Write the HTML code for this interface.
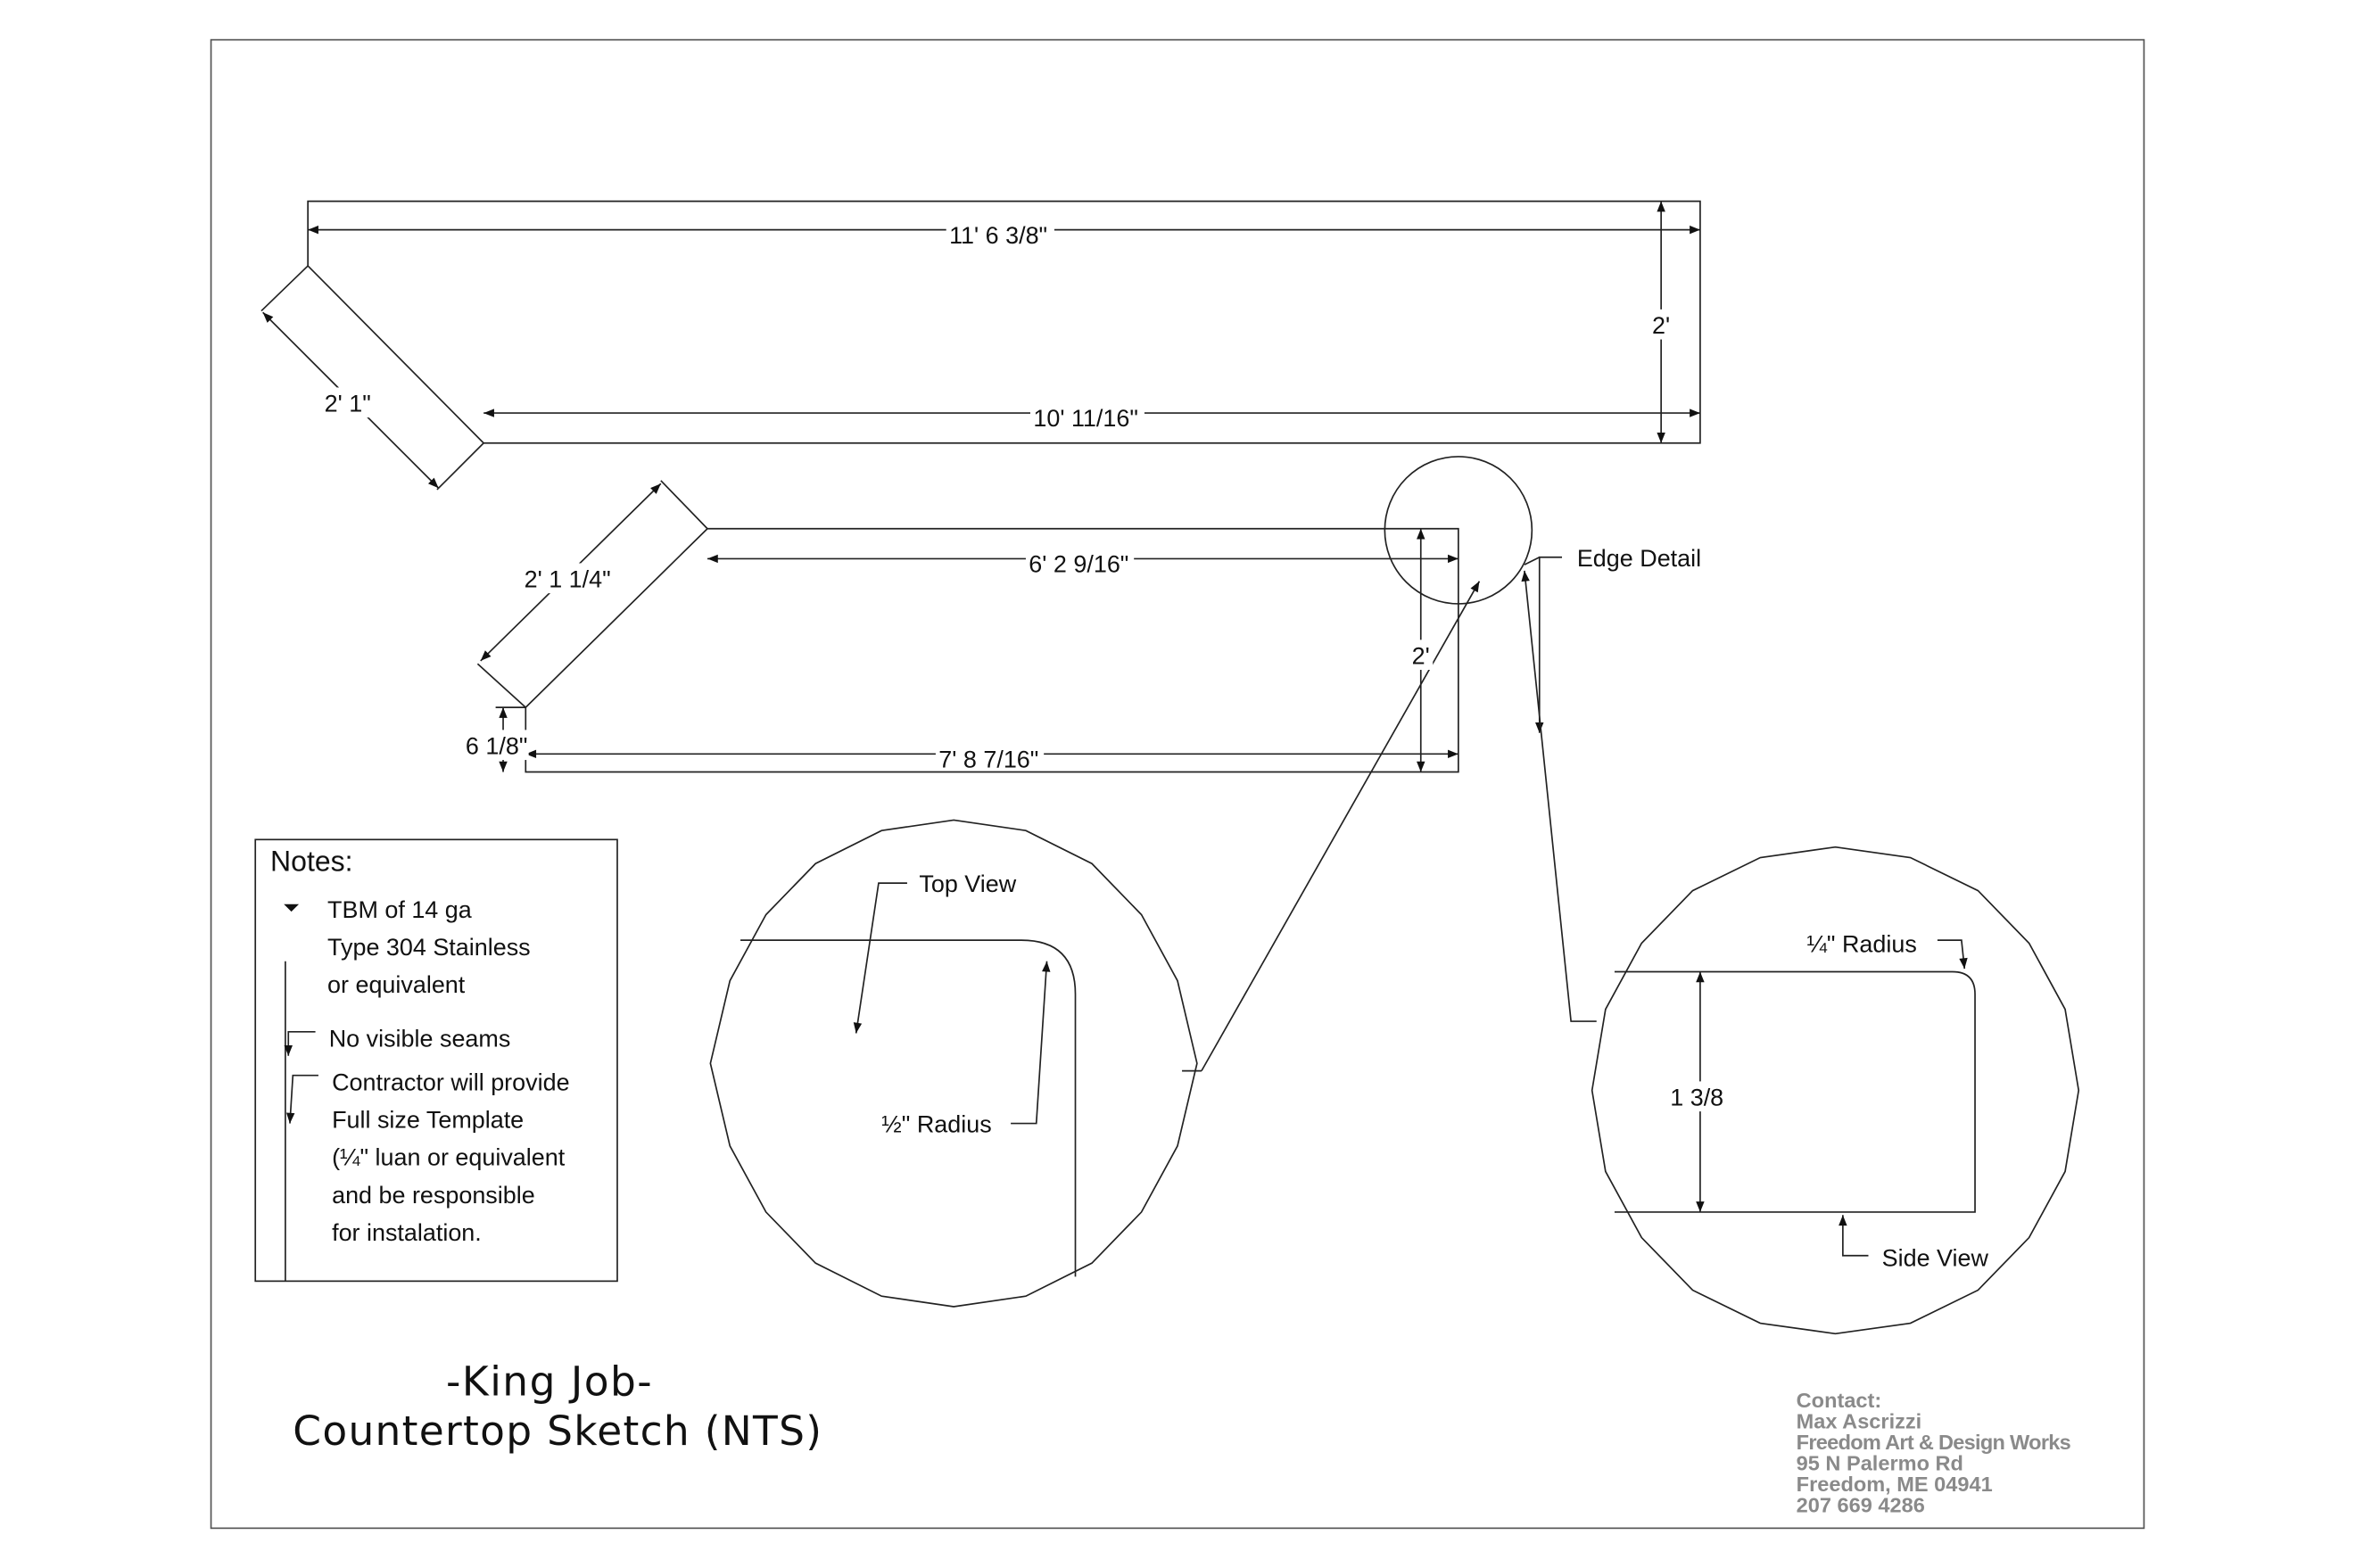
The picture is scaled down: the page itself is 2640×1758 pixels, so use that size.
<!DOCTYPE html>
<html><head><meta charset="utf-8"><style>
html,body{margin:0;padding:0;background:#fff;}
svg{display:block;}
text{font-family:"Liberation Sans","DejaVu Sans",sans-serif;}
</style></head><body>
<svg width="2640" height="1758" viewBox="0 0 1568 1044" preserveAspectRatio="none" xmlns="http://www.w3.org/2000/svg">
<defs>
<marker id="a" viewBox="0 0 10 10" refX="10" refY="5" markerWidth="9" markerHeight="7" orient="auto-start-reverse" markerUnits="userSpaceOnUse"><path d="M0,1 L10,5 L0,9 z" fill="#111"/></marker>
</defs>
<rect width="1568" height="1044" fill="#fff"/>
<rect x="140.5" y="26.5" width="1287" height="991" fill="none" stroke="#555" stroke-width="1"/>
<g fill="none" stroke="#222" stroke-width="1">
<path d="M205,134 L1132,134 L1132,295 L322,295 L205,177 Z"/>
<line x1="205" y1="153" x2="1132" y2="153" marker-start="url(#a)" marker-end="url(#a)"/>
<line x1="322" y1="275" x2="1132" y2="275" marker-start="url(#a)" marker-end="url(#a)"/>
<line x1="1106" y1="134" x2="1106" y2="295" marker-start="url(#a)" marker-end="url(#a)"/>
<line x1="175" y1="208" x2="292" y2="325" marker-start="url(#a)" marker-end="url(#a)"/>
<line x1="205" y1="177" x2="174" y2="207"/>
<line x1="322" y1="295" x2="291" y2="326"/>
<path d="M471,352 L971,352 L971,514 L350,514 L350,471 Z"/>
<line x1="471" y1="372" x2="971" y2="372" marker-start="url(#a)" marker-end="url(#a)"/>
<line x1="350" y1="502" x2="971" y2="502" marker-start="url(#a)" marker-end="url(#a)"/>
<line x1="946" y1="352" x2="946" y2="514" marker-start="url(#a)" marker-end="url(#a)"/>
<line x1="440" y1="322" x2="320" y2="440" marker-start="url(#a)" marker-end="url(#a)"/>
<line x1="471" y1="352" x2="440" y2="320"/>
<line x1="350" y1="471" x2="318" y2="442"/>
<line x1="335" y1="471" x2="335" y2="514" marker-start="url(#a)" marker-end="url(#a)"/>
<line x1="330" y1="471" x2="350" y2="471"/>
<circle cx="971" cy="353" r="49"/>
<path d="M800,713 L787,713"/>
<line x1="800" y1="713" x2="985" y2="387" marker-end="url(#a)"/>
<path d="M1040,371 L1025,371 L1025,488" marker-end="url(#a)"/>
<line x1="1025" y1="371" x2="1015" y2="376"/>
<path d="M1063,680 L1046,680 L1015,380" marker-end="url(#a)"/>
<polygon points="635,546 683,553 727,575 760,609 784,653 797,708 784,763 760,807 727,841 683,863 635,870 587,863 543,841 510,807 486,763 473,708 486,653 510,609 543,575 587,553"/>
<path d="M493,626 L680,626 Q716,626 716,662 L716,850"/>
<path d="M604,588 L585,588 L570,688" marker-end="url(#a)"/>
<path d="M673,748 L690,748 L697,640" marker-end="url(#a)"/>
<polygon points="1222,564 1272,571 1317,593 1351,628 1375,672 1384,726 1375,780 1351,824 1317,859 1272,881 1222,888 1172,881 1127,859 1093,824 1069,780 1060,726 1069,672 1093,628 1127,593 1172,571"/>
<path d="M1075,647 L1300,647 Q1315,647 1315,662 L1315,807 L1075,807"/>
<line x1="1132" y1="647" x2="1132" y2="807" marker-start="url(#a)" marker-end="url(#a)"/>
<path d="M1290,626 L1306,626 L1308,645" marker-end="url(#a)"/>
<path d="M1244,836 L1227,836 L1227,809" marker-end="url(#a)"/>
<rect x="170" y="559" width="241" height="294"/>
<line x1="190" y1="640" x2="190" y2="853"/>
<path d="M210,687 L192,687 L192,703" marker-end="url(#a)"/>
<path d="M212,716 L195,716 L193,748" marker-end="url(#a)"/>
</g>
<path d="M189,602 L199,602 L194,607 Z" fill="#111"/>
<g fill="#fff">
<rect x="630" y="146" width="72" height="18"/>
<rect x="686" y="268" width="76" height="18"/>
<rect x="1098" y="206" width="16" height="20"/>
<rect x="214" y="258" width="38" height="20"/>
<rect x="683" y="365" width="72" height="18"/>
<rect x="623" y="495" width="72" height="18"/>
<rect x="938" y="426" width="16" height="20"/>
<rect x="347" y="375" width="64" height="20"/>
<rect x="308" y="486" width="44" height="20"/>
<rect x="1110" y="720" width="44" height="20"/>
</g>
<g font-size="16" style="fill:#111">
<text x="632" y="162">11' 6 3/8"</text>
<text x="688" y="284">10' 11/16"</text>
<text x="1100" y="222">2'</text>
<text x="216" y="274">2' 1"</text>
<text x="685" y="381">6' 2 9/16"</text>
<text x="625" y="511">7' 8 7/16"</text>
<text x="940" y="442">2'</text>
<text x="349" y="391">2' 1 1/4"</text>
<text x="310" y="502">6 1/8"</text>
<text x="1050" y="377">Edge Detail</text>
<text x="612" y="594">Top View</text>
<text x="587" y="754">½" Radius</text>
<text x="1203" y="634">¼" Radius</text>
<text x="1112" y="736">1 3/8</text>
<text x="1253" y="843">Side View</text>
<text x="180" y="580" font-size="19">Notes:</text>
<text x="218" y="611">TBM of 14 ga</text>
<text x="218" y="636">Type 304 Stainless</text>
<text x="218" y="661">or equivalent</text>
<text x="219" y="697">No visible seams</text>
<text x="221" y="726">Contractor will provide</text>
<text x="221" y="751">Full size Template</text>
<text x="221" y="776">(¼" luan or equivalent</text>
<text x="221" y="801">and be responsible</text>
<text x="221" y="826">for instalation.</text>
</g>
<g style="fill:#111;font-family:'DejaVu Sans',sans-serif" font-size="27">
<text x="297" y="929" textLength="137" style="font-family:'DejaVu Sans',sans-serif">-King Job-</text>
<text x="195" y="962" textLength="352" style="font-family:'DejaVu Sans',sans-serif">Countertop Sketch (NTS)</text>
</g>
<g font-size="14" font-weight="bold" style="fill:#8a8a8a">
<text x="1196" y="937">Contact:</text>
<text x="1196" y="951">Max Ascrizzi</text>
<text x="1196" y="965" textLength="183">Freedom Art &amp; Design Works</text>
<text x="1196" y="979">95 N Palermo Rd</text>
<text x="1196" y="993">Freedom, ME 04941</text>
<text x="1196" y="1007">207 669 4286</text>
</g>
</svg>
</body></html>
